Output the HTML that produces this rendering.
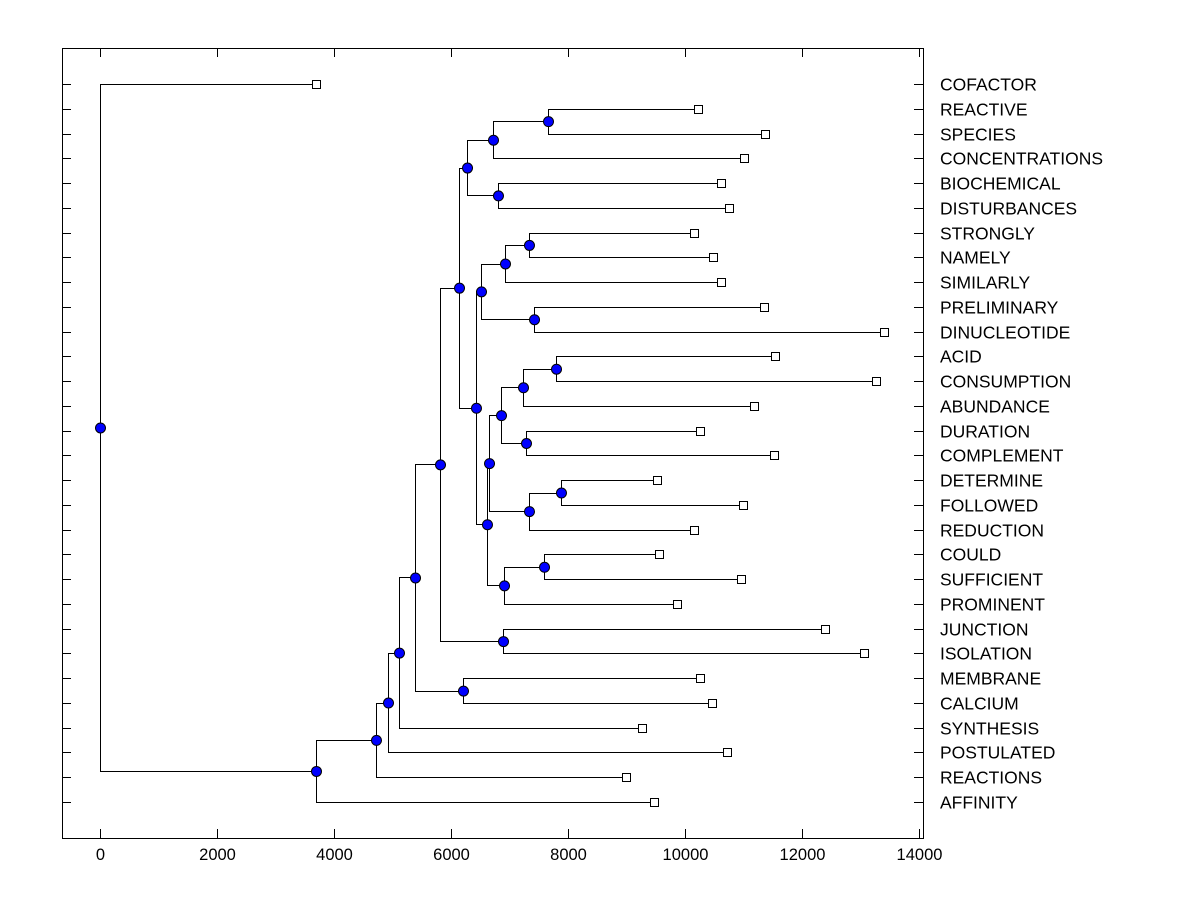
<!DOCTYPE html>
<html><head><meta charset="utf-8"><style>
body{margin:0;background:#fff}
svg text{font-family:"Liberation Sans",Arial,sans-serif}
</style></head><body>
<svg id="chart" width="1200" height="900" xmlns="http://www.w3.org/2000/svg">
<rect x="0" y="0" width="1200" height="900" fill="#fff"/>
<rect x="62.5" y="48.5" width="861" height="790" fill="none" stroke="#000" stroke-width="1"/>
<g id="ticks"></g>
<g id="links"></g>
<g id="marks"></g>
<g id="labels"></g>
</svg>
<script>
const leafNames = ["COFACTOR","REACTIVE","SPECIES","CONCENTRATIONS","BIOCHEMICAL","DISTURBANCES","STRONGLY","NAMELY","SIMILARLY","PRELIMINARY","DINUCLEOTIDE","ACID","CONSUMPTION","ABUNDANCE","DURATION","COMPLEMENT","DETERMINE","FOLLOWED","REDUCTION","COULD","SUFFICIENT","PROMINENT","JUNCTION","ISOLATION","MEMBRANE","CALCIUM","SYNTHESIS","POSTULATED","REACTIONS","AFFINITY"];
const leafValues = [3692,10222,11368,11009,10615,10752,10154,10479,10615,11350,13402,11538,13265,11180,10256,11521,9521,10991,10154,9555,10957,9863,12393,13060,10256,10462,9265,10718,8991,9470];
// merges: [childA, childB] ids >= 30 refer to earlier merges
const mergeChildren = [[1,2],[30,3],[4,5],[31,32],[6,7],[34,8],[9,10],[35,36],[11,12],[38,13],[14,15],[39,40],[16,17],[42,18],[41,43],[19,20],[45,21],[44,46],[37,47],[33,48],[22,23],[49,50],[24,25],[51,52],[53,26],[54,27],[55,28],[56,29],[0,57]];
const mergeHeights = [7658,6718,6803,6274,7333,6923,7419,6513,7795,7231,7282,6855,7880,7333,6650,7590,6906,6615,6427,6137,6889,5812,6205,5385,5111,4923,4718,3692,0];
const xTicks = [0,2000,4000,6000,8000,10000,12000,14000];

const NS="http://www.w3.org/2000/svg";
const X = v => 100 + v*(819/14000);
const Y = i => 84 + i*(718/29);
function mk(tag, attrs, parent){const e=document.createElementNS(NS,tag);for(const k in attrs)e.setAttribute(k,attrs[k]);parent.appendChild(e);return e;}
const ticks=document.getElementById('ticks'),links=document.getElementById('links'),marks=document.getElementById('marks'),labels=document.getElementById('labels');

xTicks.forEach(t=>{
  const x=Math.round(X(t))+0.5;
  const a=mk('line',{x1:x,x2:x,y1:838,y2:829,stroke:'#000'},ticks);
  
  
  const b=mk('line',{x1:x,x2:x,y1:48,y2:57,stroke:'#000'},ticks);
  
  
  const tx=mk('text',{x:x,y:860,'text-anchor':'middle','font-size':16.5},ticks);
  tx.textContent=t;
  
  
});

const n=leafNames.length;
const nx=[],ny=[];
for(let i=0;i<n;i++){nx.push(X(leafValues[i]));ny.push(Y(i));}
mergeChildren.forEach((c,k)=>{
  nx.push(X(mergeHeights[k]));ny.push((ny[c[0]]+ny[c[1]])/2);
});
leafNames.forEach((nm,i)=>{
  const y=Math.round(Y(i))+0.5;
  const l1=mk('line',{x1:62,x2:71,y1:y,y2:y,stroke:'#000'},ticks);
  
  
  const l2=mk('line',{x1:914,x2:923,y1:y,y2:y,stroke:'#000'},ticks);
  
  
  const t=mk('text',{x:940,y:y+6,'font-size':17.5},labels);
  t.textContent=nm;
  
  
});
mergeChildren.forEach((c,k)=>{
  const id=n+k,x=Math.round(nx[id])+0.5;
  const ya=Math.round(ny[c[0]])+0.5,yb=Math.round(ny[c[1]])+0.5;
  const p=mk('path',{d:`M${Math.round(nx[c[0]])+0.5},${ya}H${x}V${yb}H${Math.round(nx[c[1]])+0.5}`,fill:'none',stroke:'#000','stroke-width':1},links);
  
  
});
for(let i=0;i<n;i++){
  const r=mk('rect',{x:Math.round(nx[i])-3.5,y:Math.round(ny[i])-3.5,width:8,height:8,fill:'#fff',stroke:'#000'},marks);
  
  
}
mergeChildren.forEach((c,k)=>{
  const id=n+k;
  const ci=mk('circle',{cx:nx[id]+0.5,cy:ny[id]+0.5,r:5,fill:'#0000ff',stroke:'#000','stroke-width':1},marks);
  
  
});
</script>
</body></html>
